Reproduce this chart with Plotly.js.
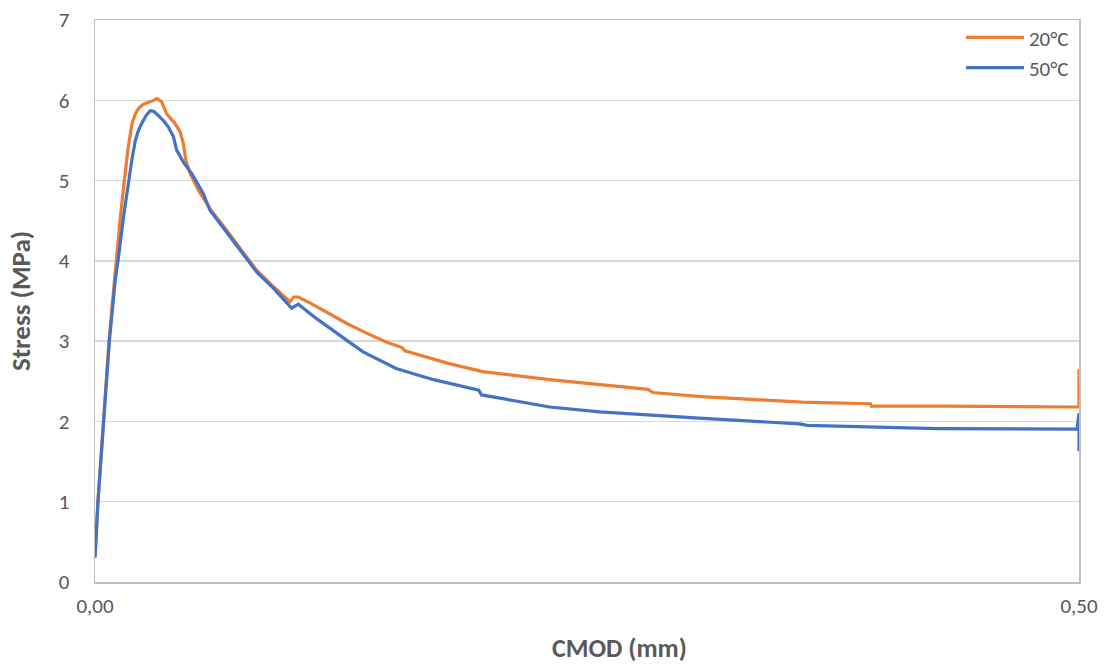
<!DOCTYPE html>
<html>
<head>
<meta charset="utf-8">
<script src="https://cdn.plot.ly/plotly-3.0.1.min.js"></script>
<style>html,body{margin:0;padding:0;background:#fff;}#chart{width:1107px;height:668px;}</style>
</head>
<body>
<div id="chart"></div>
<script>
// CMOD (mm) and Stress (MPa)
const cmod20 = [0.0000, 0.0015, 0.0043, 0.0071, 0.0090, 0.0107, 0.0128, 0.0149, 0.0168, 0.0188, 0.0205, 0.0222, 0.0245, 0.0264, 0.0290, 0.0315, 0.0339, 0.0364, 0.0385, 0.0407, 0.0432, 0.0449, 0.0462, 0.0483, 0.0525, 0.0584, 0.0669, 0.0754, 0.0822, 0.0906, 0.0990, 0.1010, 0.1033, 0.1090, 0.1190, 0.1280, 0.1380, 0.1480, 0.1560, 0.1575, 0.1800, 0.1970, 0.2310, 0.2560, 0.2810, 0.2835, 0.3080, 0.3590, 0.3940, 0.3945, 0.4320, 0.4990, 0.5000, 0.5000];
const stress20 = [0.30, 1.00, 2.00, 3.00, 3.52, 4.00, 4.52, 5.00, 5.40, 5.71, 5.83, 5.90, 5.95, 5.97, 5.99, 6.02, 5.98, 5.83, 5.77, 5.71, 5.61, 5.46, 5.25, 5.09, 4.88, 4.65, 4.38, 4.10, 3.88, 3.68, 3.49, 3.55, 3.55, 3.48, 3.34, 3.22, 3.10, 2.99, 2.92, 2.88, 2.72, 2.62, 2.52, 2.46, 2.40, 2.36, 2.31, 2.24, 2.22, 2.19, 2.19, 2.18, 2.18, 2.65];

const cmod50 = [0.0000, 0.0015, 0.0044, 0.0073, 0.0103, 0.0117, 0.0145, 0.0171, 0.0188, 0.0205, 0.0220, 0.0237, 0.0260, 0.0281, 0.0300, 0.0330, 0.0350, 0.0372, 0.0398, 0.0415, 0.0449, 0.0491, 0.0550, 0.0584, 0.0669, 0.0754, 0.0822, 0.0906, 0.0999, 0.1033, 0.1090, 0.1126, 0.1280, 0.1360, 0.1530, 0.1720, 0.1950, 0.1964, 0.2310, 0.2565, 0.3070, 0.3580, 0.3620, 0.4090, 0.4280, 0.4990, 0.5000, 0.5000];
const stress50 = [0.31, 1.00, 2.00, 3.00, 3.76, 4.00, 4.55, 5.00, 5.27, 5.50, 5.62, 5.71, 5.81, 5.87, 5.86, 5.79, 5.74, 5.67, 5.55, 5.38, 5.23, 5.09, 4.84, 4.63, 4.36, 4.09, 3.86, 3.66, 3.41, 3.46, 3.35, 3.28, 3.01, 2.87, 2.66, 2.52, 2.39, 2.33, 2.18, 2.12, 2.04, 1.97, 1.95, 1.92, 1.91, 1.905, 2.10, 1.63];

const seriesNames = ["20°C", "50°C"];
const seriesColors = ["#ED7D31", "#4472C4"];
const xTitle = "CMOD (mm)";
const yTitle = "Stress (MPa)";

const fontFam = "Calibri, Carlito, 'Open Sans', sans-serif";
const grey = "#595959";

const traces = [
  {x: cmod20, y: stress20, name: seriesNames[0], mode: "lines", line: {color: seriesColors[0], width: 3.2}},
  {x: cmod50, y: stress50, name: seriesNames[1], mode: "lines", line: {color: seriesColors[1], width: 3.2}}
];

const layout = {
  width: 1107, height: 668,
  margin: {l: 95, r: 28, t: 20, b: 86},
  paper_bgcolor: "#fff", plot_bgcolor: "#fff",
  separators: ",.",
  font: {family: fontFam, color: grey, size: 21},
  showlegend: true,
  legend: {x: 0.88, y: 1.005, xanchor: "left", yanchor: "top", bgcolor: "rgba(0,0,0,0)",
           font: {size: 21, color: grey}, itemwidth: 58, tracegroupgap: 0},
  xaxis: {
    range: [0, 0.5], tickvals: [0, 0.5], tickformat: ".2f",
    showgrid: false, zeroline: false,
    showline: true, linecolor: "#BFBFBF", linewidth: 1.5, mirror: true,
    ticks: "", ticklabelstandoff: 4, tickfont: {size: 21, color: grey}
  },
  yaxis: {
    range: [0, 7], dtick: 1, tick0: 0,
    showgrid: true, gridcolor: "#D9D9D9", gridwidth: 1.5,
    zeroline: false, showline: true, linecolor: "#BFBFBF", linewidth: 1.5, mirror: true,
    ticks: "", ticklabelstandoff: 20, tickfont: {size: 21, color: grey},
    title: {text: yTitle, font: {size: 27, color: grey, family: fontFam, weight: "bold"}, standoff: 20}
  },
  annotations: [{
    text: xTitle, xref: "paper", yref: "paper", x: 0.5335, y: -0.118,
    xanchor: "center", yanchor: "middle", showarrow: false,
    font: {size: 26, color: grey, family: fontFam, weight: "bold"}
  }]
};

Plotly.newPlot("chart", traces, layout, {displayModeBar: false, staticPlot: true});
</script>
</body>
</html>
